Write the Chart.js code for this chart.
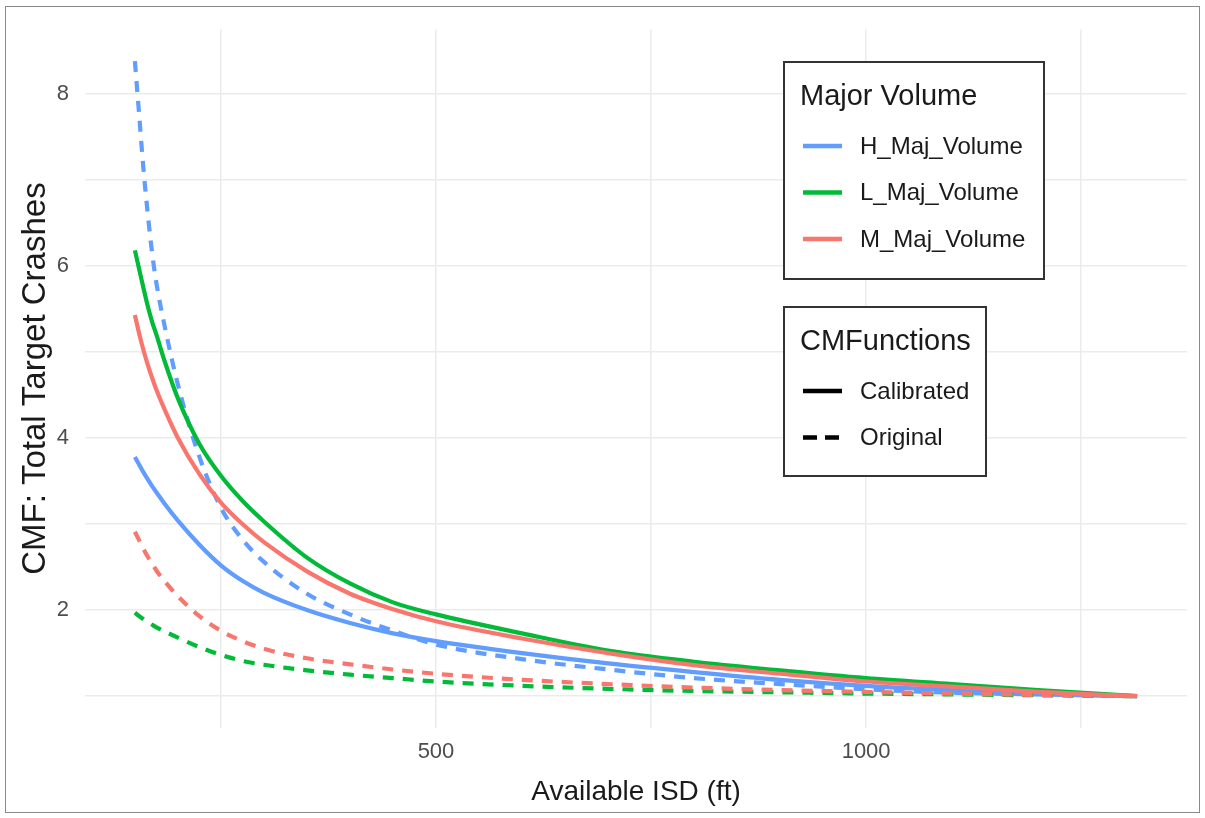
<!DOCTYPE html>
<html>
<head>
<meta charset="utf-8">
<title>CMF vs Available ISD</title>
<script src="https://cdn.jsdelivr.net/npm/chart.js@4/dist/chart.umd.min.js"></script>
<style>
    html, body { margin: 0; padding: 0; background: #fff; }
    #wrap { position: relative; width: 1205px; height: 818px; }
</style>
</head>
<body>
<div id="wrap"><canvas id="cmfChart" width="1205" height="818"></canvas></div>
<script>
// Available ISD (ft) sample points
const isd = [150, 155, 160, 165, 170, 175, 185, 200, 225, 250, 275, 300, 350, 400, 450, 500, 600, 700, 800, 900, 1000, 1100, 1200, 1315];

// CMF values per major volume level and CMFunction
const hCalibrated = [3.78, 3.69, 3.60, 3.52, 3.44, 3.37, 3.23, 3.04, 2.76, 2.52, 2.34, 2.20, 2.00, 1.85, 1.73, 1.64, 1.50, 1.38, 1.28, 1.19, 1.12, 1.07, 1.03, 1.00];
const hOriginal   = [8.38, 7.75, 7.12, 6.60, 6.15, 5.80, 5.28, 4.62, 3.78, 3.19, 2.82, 2.56, 2.19, 1.95, 1.76, 1.60, 1.43, 1.31, 1.21, 1.14, 1.08, 1.04, 1.02, 1.00];
const lCalibrated = [6.18, 5.96, 5.74, 5.53, 5.35, 5.20, 4.88, 4.46, 3.93, 3.56, 3.27, 3.03, 2.61, 2.31, 2.09, 1.95, 1.73, 1.53, 1.40, 1.30, 1.21, 1.14, 1.07, 1.00];
const lOriginal   = [1.97, 1.93, 1.895, 1.86, 1.83, 1.80, 1.75, 1.68, 1.57, 1.48, 1.41, 1.365, 1.30, 1.25, 1.21, 1.17, 1.12, 1.085, 1.06, 1.045, 1.03, 1.02, 1.01, 1.00];
const mCalibrated = [5.43, 5.21, 5.02, 4.85, 4.70, 4.56, 4.32, 4.00, 3.58, 3.25, 3.00, 2.79, 2.45, 2.19, 2.01, 1.87, 1.67, 1.50, 1.36, 1.26, 1.17, 1.11, 1.05, 1.00];
const mOriginal   = [2.91, 2.81, 2.71, 2.62, 2.54, 2.46, 2.33, 2.16, 1.93, 1.76, 1.64, 1.55, 1.44, 1.37, 1.31, 1.26, 1.19, 1.14, 1.10, 1.07, 1.05, 1.03, 1.015, 1.00];

// Legend groups
const volumeNames = ['H_Maj_Volume', 'L_Maj_Volume', 'M_Maj_Volume'];
const functionNames = ['Calibrated', 'Original'];

// Axis ticks (major ones get a label)
const xTicks = [250, 500, 750, 1000, 1250];
const xLabelled = [500, 1000];
const yTicks = [1, 2, 3, 4, 5, 6, 7, 8];
const yLabelled = [2, 4, 6, 8];

const volumeColors = ['#619CFF', '#00BA38', '#F8766D'];
const dashPattern = [11, 9];
const FONT = "'Liberation Sans', Arial, sans-serif";

function points(values) {
    return isd.map((x, i) => ({ x: x, y: values[i] }));
}

// Build datasets (index 0 is drawn on top in Chart.js, so red goes first)
const seriesOrder = [
    { values: mOriginal, vol: 2, dashed: true },
    { values: mCalibrated, vol: 2, dashed: false },
    { values: lOriginal, vol: 1, dashed: true },
    { values: lCalibrated, vol: 1, dashed: false },
    { values: hOriginal, vol: 0, dashed: true },
    { values: hCalibrated, vol: 0, dashed: false }
];

const datasets = seriesOrder.map(s => ({
    label: volumeNames[s.vol] + ' ' + functionNames[s.dashed ? 1 : 0],
    data: points(s.values),
    borderColor: volumeColors[s.vol],
    borderWidth: 4.2,
    borderDash: s.dashed ? dashPattern : [],
    borderCapStyle: 'butt',
    pointRadius: 0,
    fill: false,
    cubicInterpolationMode: 'monotone'
}));

// Draws the two boxed ggplot-style legends and the outer frame
const boxLegends = {
    id: 'boxLegends',
    afterDraw(chart) {
        const ctx = chart.ctx;
        ctx.save();

        // outer frame
        ctx.strokeStyle = '#8a8a8a';
        ctx.lineWidth = 1;
        ctx.strokeRect(5.5, 6.5, 1194, 806);

        function box(x, y, w, h, title, items) {
            ctx.fillStyle = '#fff';
            ctx.fillRect(x, y, w, h);
            ctx.strokeStyle = '#333';
            ctx.lineWidth = 2;
            ctx.strokeRect(x, y, w, h);

            ctx.fillStyle = '#1a1a1a';
            ctx.textBaseline = 'middle';
            ctx.textAlign = 'left';
            ctx.font = '29px ' + FONT;
            ctx.fillText(title, x + 16, y + 35);

            ctx.font = '24px ' + FONT;
            items.forEach((it, i) => {
                const cy = y + 84 + i * 46.5;
                ctx.beginPath();
                ctx.setLineDash(it.dash);
                ctx.strokeStyle = it.color;
                ctx.lineWidth = 4.5;
                ctx.moveTo(x + 19, cy);
                ctx.lineTo(x + 58, cy);
                ctx.stroke();
                ctx.setLineDash([]);
                ctx.fillStyle = '#1a1a1a';
                ctx.fillText(it.label, x + 76, cy + 1);
            });
        }

        box(784, 62, 260, 217, 'Major Volume',
            volumeNames.map((n, i) => ({ label: n, color: volumeColors[i], dash: [] })));
        box(784, 307, 202, 169, 'CMFunctions',
            functionNames.map((n, i) => ({ label: n, color: '#000', dash: i ? [14, 8] : [] })));

        ctx.restore();
    }
};

const gridStyle = {
    color: '#ebebeb',
    lineWidth: 1.5,
    drawTicks: false
};

new Chart(document.getElementById('cmfChart'), {
    type: 'line',
    data: { datasets: datasets },
    options: {
        responsive: false,
        animation: false,
        layout: { padding: { top: 24, right: 18, left: 0, bottom: 0 } },
        plugins: {
            legend: { display: false },
            tooltip: { enabled: false }
        },
        scales: {
            x: {
                type: 'linear',
                min: 92,
                max: 1373,
                afterBuildTicks: axis => { axis.ticks = xTicks.map(v => ({ value: v })); },
                afterFit: axis => { axis.height = 90; },
                grid: gridStyle,
                border: { display: false },
                ticks: {
                    padding: 11,
                    color: '#4d4d4d',
                    font: { family: FONT, size: 22 },
                    maxRotation: 0,
                    callback: v => xLabelled.includes(v) ? String(v) : ''
                },
                title: {
                    display: true,
                    text: 'Available ISD (ft)',
                    color: '#1a1a1a',
                    font: { family: FONT, size: 28 },
                    padding: { top: 0, bottom: 9 }
                }
            },
            y: {
                type: 'linear',
                min: 0.63,
                max: 8.75,
                afterBuildTicks: axis => { axis.ticks = yTicks.map(v => ({ value: v })); },
                afterFit: axis => { axis.width = 85; },
                grid: gridStyle,
                border: { display: false },
                ticks: {
                    padding: 16,
                    color: '#4d4d4d',
                    font: { family: FONT, size: 22 },
                    callback: v => yLabelled.includes(v) ? String(v) : ''
                },
                title: {
                    display: true,
                    text: 'CMF: Total Target Crashes',
                    color: '#1a1a1a',
                    font: { family: FONT, size: 33 },
                    padding: { top: 16, bottom: 0 }
                }
            }
        }
    },
    plugins: [boxLegends]
});
</script>
</body>
</html>
